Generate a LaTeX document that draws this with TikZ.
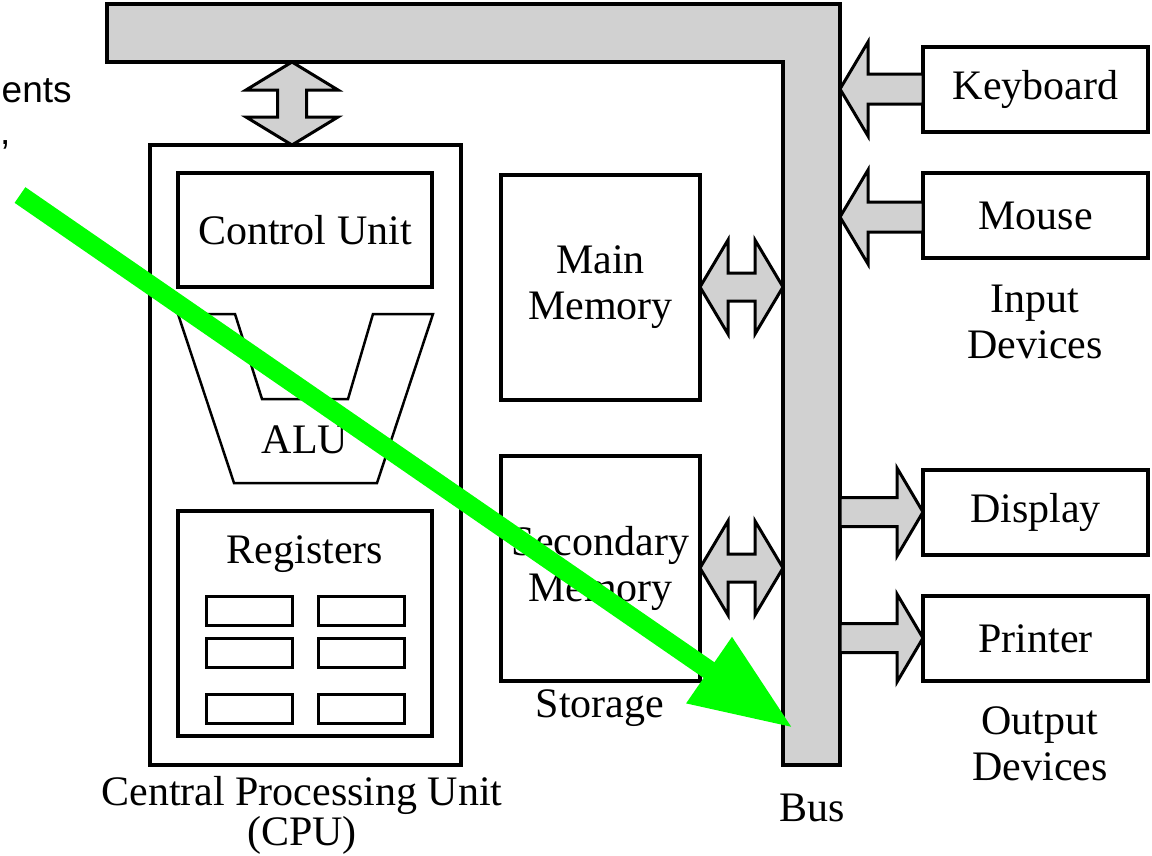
\documentclass[tikz,border=0pt]{standalone}
\usepackage{fontspec}
\setmainfont{Liberation Serif}
\newfontfamily\arialf{Liberation Sans}
\usetikzlibrary{arrows.meta}
\definecolor{busgray}{gray}{0.82}
\definecolor{hlgreen}{RGB}{0,255,0}
\tikzset{
  box/.style={draw=black, line width=3.5pt, fill=white, inner sep=0pt},
  cell/.style={draw=black, line width=3pt, minimum width=86pt, minimum height=29pt, inner sep=0pt},
  lbl/.style={font=\fontsize{42}{46}\selectfont, align=center, inner sep=0pt},
  blockarrow/.style={draw=black, line width=3pt, fill=busgray, line join=miter},
  busshape/.style={draw=black, line width=3.5pt, fill=busgray},
  alushape/.style={draw=black, line width=2.5pt},
  hlarrow/.style={draw=hlgreen, line width=19pt, -{Triangle[length=102pt,width=75pt]}},
}
\begin{document}
\begin{tikzpicture}[x=1pt,y=-1pt]
\useasboundingbox (0,0) rectangle (1152,855);

% Bus
\draw[busshape] (107,4) -- (840,4) -- (840,765) -- (783,765) -- (783,62) -- (107,62) -- cycle;
\node[lbl] (buslabel) at (812,808) {Bus};

% CPU
\node[box, minimum width=311pt, minimum height=620pt] (cpu) at (305.5,455) {};
\node[box, minimum width=254pt, minimum height=114pt, lbl] (cu) at (305,230) {Control Unit};
\draw[alushape] (178,314) -- (235,314) -- (262,399) -- (348,399) -- (373,314) -- (433,314) -- (377,483) -- (234,483) -- cycle;
\node[lbl] (alu) at (305,440) {ALU};
\node[box, minimum width=254pt, minimum height=225pt] (regs) at (305,623.5) {};
\node[lbl] (regslabel) at (305,554) {Registers};
\node[cell] (r1) at (249,610.5) {};
\node[cell] (r2) at (361,610.5) {};
\node[cell] (r3) at (249,652.5) {};
\node[cell] (r4) at (361,652.5) {};
\node[cell] (r5) at (249,709) {};
\node[cell] (r6) at (361,709) {};
\node[lbl, font=\fontsize{42}{40}\selectfont] (cpulabel) at (302,815) {Central Processing Unit\\(CPU)};

% CPU <-> bus arrow
\draw[blockarrow] (292,62) -- (338,90) -- (306.5,90) -- (306.5,117) -- (338,117) -- (292,145)
  -- (246,117) -- (277.5,117) -- (277.5,90) -- (246,90) -- cycle;

% Storage
\node[box, minimum width=199pt, minimum height=225pt, lbl] (mm) at (600.5,287.5) {Main\\Memory};
\node[box, minimum width=199pt, minimum height=225pt, lbl] (sm) at (600.5,568.5) {Secondary\\Memory};
\node[lbl] (storage) at (600,708) {Storage};

\draw[blockarrow] (700,287) -- (728,240) -- (728,273) -- (755,273) -- (755,240) -- (783,287)
  -- (755,334) -- (755,301) -- (728,301) -- (728,334) -- cycle;
\draw[blockarrow] (700,568) -- (728,521) -- (728,554) -- (755,554) -- (755,521) -- (783,568)
  -- (755,615) -- (755,582) -- (728,582) -- (728,615) -- cycle;

% Input devices
\node[box, minimum width=225pt, minimum height=85pt, lbl] (kbd) at (1035.5,89.5) {Keyboard};
\node[box, minimum width=225pt, minimum height=85pt, lbl] (mouse) at (1035.5,215.5) {Mouse};
\node[lbl] (inlabel) at (1035,322) {Input\\Devices};
\draw[blockarrow] (840,89) -- (868,42) -- (868,74) -- (923,74) -- (923,104) -- (868,104) -- (868,136) -- cycle;
\draw[blockarrow] (840,217) -- (868,170) -- (868,202) -- (923,202) -- (923,232) -- (868,232) -- (868,264) -- cycle;

% Output devices
\node[box, minimum width=225pt, minimum height=85pt, lbl] (disp) at (1035.5,512.5) {Display};
\node[box, minimum width=225pt, minimum height=85pt, lbl] (prn) at (1035.5,638.5) {Printer};
\node[lbl] (outlabel) at (1040,744) {Output\\Devices};
\draw[blockarrow] (840,497.5) -- (897,497.5) -- (897,468) -- (923,512) -- (897,556) -- (897,526.5) -- (840,526.5) -- cycle;
\draw[blockarrow] (840,623.5) -- (897,623.5) -- (897,594) -- (923,638) -- (897,682) -- (897,652.5) -- (840,652.5) -- cycle;

% clipped text fragments
\node[font=\arialf\fontsize{37}{40}\selectfont, anchor=base west, inner sep=0pt] (frag1) at (1.5,102) {ents};
\node[font=\arialf\fontsize{37}{40}\selectfont, anchor=base west, inner sep=0pt] (frag2) at (0,144) {,};

% green highlight arrow
\coordinate (gstart) at (20,195);
\coordinate (gend) at (793,728);
\draw[hlarrow] (gstart) -- (gend);
\end{tikzpicture}
\end{document}
